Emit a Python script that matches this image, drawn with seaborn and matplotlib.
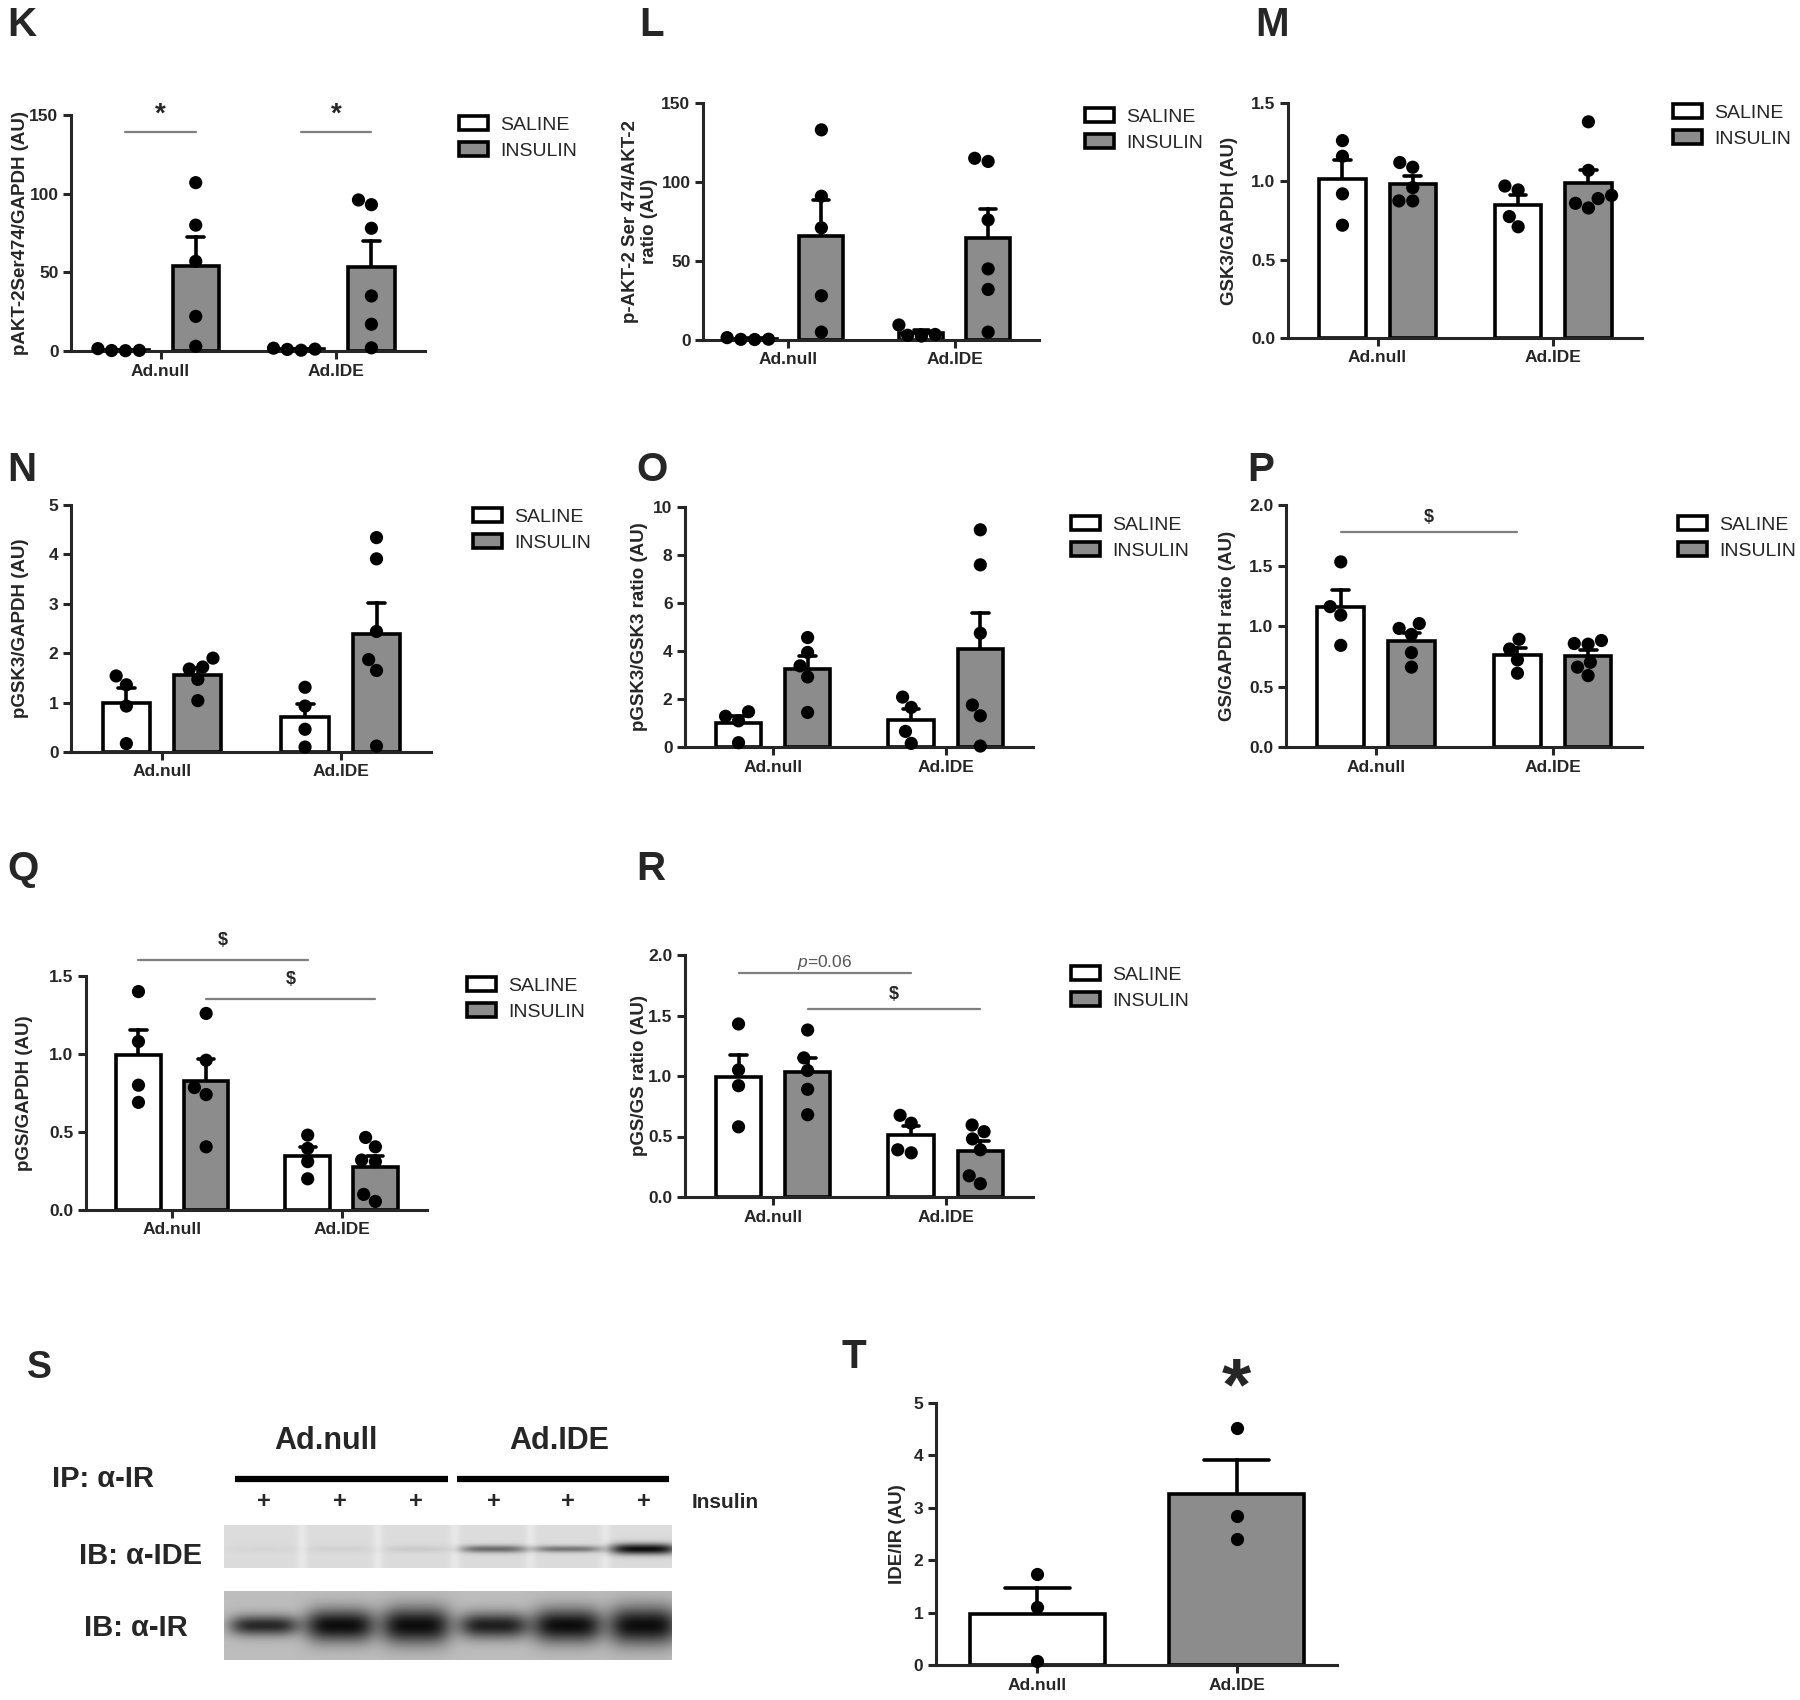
import numpy as np
import pandas as pd
import matplotlib
matplotlib.use("Agg")
import matplotlib.pyplot as plt
from matplotlib.ticker import FormatStrFormatter
import seaborn as sns

# ---------------- data ----------------
GROUPS = ["Ad.null", "Ad.IDE"]
TREATMENTS = ["SALINE", "INSULIN"]

# K  pAKT-2Ser474/GAPDH (AU)
k_null_saline = [0.3, 0.2, 0.4, 1.5]
k_null_insulin = [107, 80, 57, 22, 3]
k_ide_saline = [1.2, 0.5, 1.0, 1.8]
k_ide_insulin = [93, 96, 78, 35, 17, 2]
# L  p-AKT-2 Ser 474/AKT-2 ratio (AU)
l_null_saline = [0.4, 0.3, 0.5, 1.5]
l_null_insulin = [133, 91, 71, 28, 5]
l_ide_saline = [3.0, 2.5, 3.5, 9.5]
l_ide_insulin = [113, 115, 76, 45, 32, 5]
# M  GSK3/GAPDH (AU)
m_null_saline = [1.26, 1.16, 0.92, 0.72]
m_null_insulin = [1.09, 1.12, 0.96, 0.875, 0.875]
m_ide_saline = [0.97, 0.945, 0.775, 0.71]
m_ide_insulin = [1.38, 1.07, 0.89, 0.83, 0.86, 0.91]
# N  pGSK3/GAPDH (AU)
n_null_saline = [1.54, 1.36, 0.93, 0.17]
n_null_insulin = [1.90, 1.68, 1.72, 1.47, 1.04]
n_ide_saline = [1.31, 0.93, 0.46, 0.10]
n_ide_insulin = [4.34, 3.91, 2.44, 1.87, 1.65, 0.12]
# O  pGSK3/GSK3 ratio (AU)
o_null_saline = [1.47, 1.28, 1.09, 0.18]
o_null_insulin = [4.56, 3.94, 3.38, 2.92, 1.44]
o_ide_saline = [2.08, 1.65, 0.65, 0.15]
o_ide_insulin = [9.05, 7.59, 4.74, 1.75, 1.30, 0.04]
# P  GS/GAPDH ratio (AU)
p_null_saline = [1.53, 1.16, 1.09, 0.84]
p_null_insulin = [1.02, 0.98, 0.93, 0.78, 0.66]
p_ide_saline = [0.89, 0.81, 0.72, 0.61]
p_ide_insulin = [0.88, 0.855, 0.85, 0.70, 0.66, 0.59]
# Q  pGS/GAPDH (AU)
q_null_saline = [1.40, 1.08, 0.80, 0.69]
q_null_insulin = [1.26, 0.96, 0.785, 0.74, 0.405]
q_ide_saline = [0.48, 0.395, 0.31, 0.20]
q_ide_insulin = [0.465, 0.405, 0.32, 0.31, 0.10, 0.055]
# R  pGS/GS ratio (AU)
r_null_saline = [1.43, 1.05, 0.92, 0.58]
r_null_insulin = [1.38, 1.15, 1.045, 0.89, 0.68]
r_ide_saline = [0.675, 0.61, 0.365, 0.39]
r_ide_insulin = [0.595, 0.54, 0.48, 0.39, 0.175, 0.11]
# T  IDE/IR (AU)
t_null = [1.74, 1.11, 0.08]
t_ide = [4.52, 2.85, 2.41]

# S  western blot (relative band densities per lane)
blot_lane_marks = ["+", "+", "+", "+", "+", "+"]
ide_band_density = [0.03, 0.05, 0.08, 0.55, 0.50, 1.00]
ide_band_height = [0.08, 0.08, 0.08, 0.09, 0.08, 0.13]
ir_band_density = [0.85, 1.00, 1.00, 0.90, 1.00, 1.00]
ir_band_height = [0.15, 0.24, 0.27, 0.19, 0.25, 0.28]

# ---------------- style ----------------
sns.set_theme(style="ticks")
plt.rcParams["font.family"] = ["Liberation Sans", "DejaVu Sans"]
plt.rcParams["mathtext.fontset"] = "custom"
plt.rcParams["mathtext.it"] = "Liberation Sans:italic"
plt.rcParams["mathtext.rm"] = "Liberation Sans"

W, H = 1800, 1700
fig = plt.figure(figsize=(18, 17), dpi=100)
fig.patch.set_facecolor("white")

GRAY = "#8c8c8c"
PAL = {"SALINE": "white", "INSULIN": GRAY}
LW = 2.6
CAP = 0.19
XLIM = (-0.51, 1.505)
DOT = 9.5


def px_axes(left, right, top, bottom):
    return fig.add_axes([left / W, 1 - bottom / H, (right - left) / W, (bottom - top) / H])


def make_df(ns, ni, is_, ii):
    rows = []
    for g, t, vals in [("Ad.null", "SALINE", ns), ("Ad.null", "INSULIN", ni),
                       ("Ad.IDE", "SALINE", is_), ("Ad.IDE", "INSULIN", ii)]:
        for v in vals:
            rows.append((g, t, v))
    return pd.DataFrame(rows, columns=["group", "treatment", "value"])


def style_axes(ax, ymax, yticks, fmt, ylabel, ylab_x, left, right):
    ax.set_ylim(0, ymax)
    ax.set_yticks(yticks)
    ax.yaxis.set_major_formatter(FormatStrFormatter(fmt))
    for s in ["top", "right"]:
        ax.spines[s].set_visible(False)
    for s in ["left", "bottom"]:
        ax.spines[s].set_linewidth(2.2)
    ax.tick_params(axis="both", width=2.2, length=6, labelsize=12.5, pad=3)
    for lab in ax.get_xticklabels() + ax.get_yticklabels():
        lab.set_fontweight("bold")
    ax.set_xlabel("")
    ax.set_ylabel(ylabel, fontsize=13.5, fontweight="bold", linespacing=1.1)
    ax.yaxis.set_label_coords((ylab_x - left) / (right - left), 0.5)
    ax.yaxis.label.set_verticalalignment("center")


def letter(x, y, s, fs=29):
    fig.text(x / W, 1 - y / H, s, fontsize=fs, fontweight="bold", ha="left", va="top")


def sig(ax, x0, x1, y, text, ty, fs=13, **kw):
    ax.plot([x0, x1], [y, y], color="#7f7f7f", lw=1.6, clip_on=False)
    ax.text((x0 + x1) / 2, ty, text, ha="center", va="center", fontsize=fs,
            fontweight="bold", clip_on=False, **kw)


def grouped_panel(box, data4, ymax, yticks, fmt, ylabel, ylab_x, legend_xy):
    left, right, top, bottom = box
    ax = px_axes(left, right, top, bottom)
    df = make_df(*data4)
    sns.barplot(data=df, x="group", y="value", hue="treatment", order=GROUPS,
                hue_order=TREATMENTS, palette=PAL, edgecolor="black", linewidth=LW,
                errorbar="se", capsize=CAP,
                err_kws={"color": "black", "linewidth": LW, "zorder": 0.9},
                width=0.8, gap=0.34, ax=ax)
    ax.set_xlim(*XLIM)
    ax.set_ylim(0, ymax)
    sns.swarmplot(data=df, x="group", y="value", hue="treatment", order=GROUPS,
                  hue_order=TREATMENTS, dodge=True, palette=["black", "black"],
                  size=DOT, legend=False, ax=ax, zorder=4, clip_on=False)
    ax.set_xlim(*XLIM)
    style_axes(ax, ymax, yticks, fmt, ylabel, ylab_x, left, right)
    old = ax.get_legend()
    handles = old.legend_handles
    labels = [t.get_text() for t in old.get_texts()]
    old.remove()
    for h in handles:
        h.set_edgecolor("black")
        h.set_linewidth(2.6)
    lx, ly = legend_xy
    ax.legend(handles, labels, loc="upper left", bbox_to_anchor=(lx / W, 1 - ly / H),
              bbox_transform=fig.transFigure, frameon=False, fontsize=14,
              handlelength=1.5, handleheight=0.75, labelspacing=0.4,
              handletextpad=0.6, borderpad=0, borderaxespad=0)
    return ax


# ---------------- row 1 ----------------
axK = grouped_panel((71, 425, 115, 351),
                    (k_null_saline, k_null_insulin, k_ide_saline, k_ide_insulin),
                    150, [0, 50, 100, 150], "%d", "pAKT-2Ser474/GAPDH (AU)", 21, (459, 116))
sig(axK, -0.2, 0.2, 139, "*", 150, fs=20)
sig(axK, 0.8, 1.2, 139, "*", 150, fs=20)
letter(7, 6, "K")

axL = grouped_panel((703, 1039, 103, 340),
                    (l_null_saline, l_null_insulin, l_ide_saline, l_ide_insulin),
                    150, [0, 50, 100, 150], "%d", "p-AKT-2 Ser 474/AKT-2\nratio (AU)", 640, (1085, 108))
letter(639, 6, "L")

axM = grouped_panel((1288, 1642, 103, 338),
                    (m_null_saline, m_null_insulin, m_ide_saline, m_ide_insulin),
                    1.5, [0, 0.5, 1.0, 1.5], "%.1f", "GSK3/GAPDH (AU)", 1230, (1673, 104))
letter(1255, 6, "M")

# ---------------- row 2 ----------------
axN = grouped_panel((71, 431, 505, 752),
                    (n_null_saline, n_null_insulin, n_ide_saline, n_ide_insulin),
                    5, [0, 1, 2, 3, 4, 5], "%d", "pGSK3/GAPDH (AU)", 21, (473, 508))
letter(7, 451, "N")

axO = grouped_panel((685, 1033, 507, 747),
                    (o_null_saline, o_null_insulin, o_ide_saline, o_ide_insulin),
                    10, [0, 2, 4, 6, 8, 10], "%d", "pGSK3/GSK3 ratio (AU)", 639, (1071, 516))
letter(636, 451, "O")

axP = grouped_panel((1286, 1642, 505, 747),
                    (p_null_saline, p_null_insulin, p_ide_saline, p_ide_insulin),
                    2.0, [0, 0.5, 1.0, 1.5, 2.0], "%.1f", "GS/GAPDH ratio (AU)", 1228, (1678, 516))
sig(axP, -0.2, 0.8, 1.78, "$", 1.9)
letter(1247, 451, "P")

# ---------------- row 3 ----------------
axQ = grouped_panel((86, 427, 976, 1210),
                    (q_null_saline, q_null_insulin, q_ide_saline, q_ide_insulin),
                    1.5, [0, 0.5, 1.0, 1.5], "%.1f", "pGS/GAPDH (AU)", 25, (467, 977))
sig(axQ, -0.2, 0.8, 1.60, "$", 1.73)
sig(axQ, 0.2, 1.2, 1.35, "$", 1.48)
letter(7, 850, "Q")

axR = grouped_panel((685, 1033, 955, 1197),
                    (r_null_saline, r_null_insulin, r_ide_saline, r_ide_insulin),
                    2.0, [0, 0.5, 1.0, 1.5, 2.0], "%.1f", "pGS/GS ratio (AU)", 639, (1071, 966))
axR.plot([-0.2, 0.8], [1.85, 1.85], color="#7f7f7f", lw=1.6, clip_on=False)
axR.text(0.3, 1.94, r"$p$=0.06", ha="center", va="center", fontsize=12.5, color="#555555")
sig(axR, 0.2, 1.2, 1.55, "$", 1.67)
letter(636, 850, "R")

# ---------------- panel T ----------------
t_df = pd.DataFrame({"group": ["Ad.null"] * len(t_null) + ["Ad.IDE"] * len(t_ide),
                     "value": t_null + t_ide})
tl, tr, tt, tb = 936, 1337, 1403, 1665
axT = px_axes(tl, tr, tt, tb)
sns.barplot(data=t_df, x="group", y="value", hue="group", order=GROUPS, hue_order=GROUPS,
            palette=["white", GRAY], legend=False, edgecolor="black", linewidth=LW,
            errorbar="se", capsize=0.33,
            err_kws={"color": "black", "linewidth": LW, "zorder": 0.9},
            width=0.675, ax=axT)
axT.set_xlim(*XLIM)
axT.set_ylim(0, 5)
sns.swarmplot(data=t_df, x="group", y="value", order=GROUPS, color="black", size=DOT,
              ax=axT, zorder=4, clip_on=False)
axT.set_xlim(*XLIM)
style_axes(axT, 5, [0, 1, 2, 3, 4, 5], "%d", "IDE/IR (AU)", 898, tl, tr)
axT.text(1, 5.25, "*", ha="center", va="center", fontsize=54, fontweight="bold", clip_on=False)
letter(842, 1338, "T")

# ---------------- panel S (western blot) ----------------
axS = fig.add_axes([0, 0, 800 / W, 370 / H])
axS.set_xlim(0, 800)
axS.set_ylim(1700, 1330)
axS.axis("off")
letter(27, 1350, "S", fs=27)

strip_l, strip_r = 224, 672
lane_x = [264, 340, 416, 494, 568, 644]
lane_frac = [(x - strip_l) / (strip_r - strip_l) for x in lane_x]


def blot_image(dens, heights, ny, nx, bg, band_y, half_w, gaps):
    xx = np.linspace(0, 1, nx)[None, :]
    yy = np.linspace(0, 1, ny)[:, None]
    img = np.full((ny, nx), bg)
    for g in gaps:
        img = img + 0.05 * np.exp(-((xx - g) / 0.012) ** 2) * np.ones_like(yy)
    for c, d, h in zip(lane_frac, dens, heights):
        px = np.exp(-np.abs((xx - c) / half_w) ** 4)
        py = np.exp(-((yy - band_y) / h) ** 2)
        img = img - d * (bg - 0.05) * px * py
    return np.clip(img, 0, 1)


gaps = [(lane_frac[i] + lane_frac[i + 1]) / 2 for i in range(5)]
ide_img = blot_image(ide_band_density, ide_band_height, 60, 448, 0.86, 0.56, 0.075, gaps)
ir_img = blot_image(ir_band_density, ir_band_height, 80, 448, 0.74, 0.50, 0.078, [])
axS.imshow(ide_img, cmap="gray", vmin=0, vmax=1, extent=(strip_l, strip_r, 1568, 1525),
           aspect="auto", interpolation="bilinear")
axS.imshow(ir_img, cmap="gray", vmin=0, vmax=1, extent=(strip_l, strip_r, 1660, 1591),
           aspect="auto", interpolation="bilinear")
axS.set_xlim(0, 800)
axS.set_ylim(1700, 1330)

axS.text(326, 1441, "Ad.null", ha="center", va="center", fontsize=22, fontweight="bold")
axS.text(559, 1441, "Ad.IDE", ha="center", va="center", fontsize=22, fontweight="bold")
axS.plot([235, 448], [1479, 1479], color="black", lw=4.5, solid_capstyle="butt")
axS.plot([457, 669], [1479, 1479], color="black", lw=4.5, solid_capstyle="butt")
axS.text(52, 1479, "IP: α-IR", ha="left", va="center", fontsize=21, fontweight="bold")
for x, m in zip(lane_x, blot_lane_marks):
    axS.text(x, 1502, m, ha="center", va="center", fontsize=17, fontweight="bold")
axS.text(692, 1502, "Insulin", ha="left", va="center", fontsize=15, fontweight="bold")
axS.text(79, 1556, "IB: α-IDE", ha="left", va="center", fontsize=21, fontweight="bold")
axS.text(84, 1628, "IB: α-IR", ha="left", va="center", fontsize=21, fontweight="bold")

fig.savefig("out.png", dpi=100, facecolor="white")
